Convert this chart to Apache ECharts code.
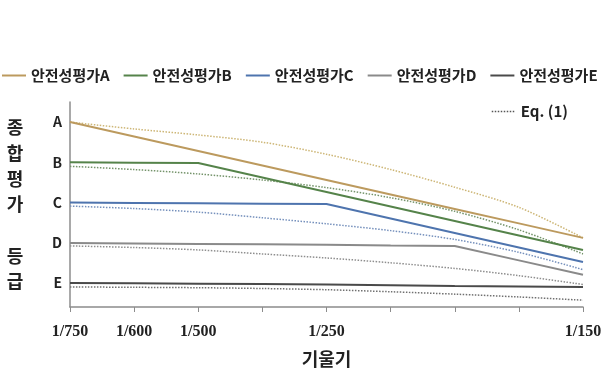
<!DOCTYPE html>
<html>
<head>
<meta charset="utf-8">
<script src="https://cdn.jsdelivr.net/npm/echarts@6/dist/echarts.min.js"></script>
<style>
  html, body { margin: 0; padding: 0; background: #fff; }
  #chart { width: 613px; height: 369px; }
</style>
</head>
<body>
<div id="chart"></div>
<script>
const categories = ['1/750', '1/600', '1/500', '', '1/250', '', '', '', '1/150']
const gradeTicks = [1, 2, 3, 4, 5]
const gradeNames = { 1: 'E', 2: 'D', 3: 'C', 4: 'B', 5: 'A' }
const seriesNames = ['안전성평가A', '안전성평가B', '안전성평가C', '안전성평가D', '안전성평가E']

const gradeA = [5.0, 4.64, 4.28, 3.92, 3.56, 3.2, 2.84, 2.48, 2.12]
const gradeB = [4.0, 3.99, 3.98, 3.62, 3.26, 2.9, 2.54, 2.18, 1.82]
const gradeC = [3.0, 2.99, 2.98, 2.97, 2.96, 2.6, 2.24, 1.88, 1.52]
const gradeD = [1.99, 1.98, 1.97, 1.96, 1.95, 1.93, 1.92, 1.56, 1.2]
const gradeE = [1.0, 0.99, 0.98, 0.97, 0.96, 0.94, 0.92, 0.91, 0.9]

const eqA = [5.0, 4.83, 4.68, 4.5, 4.2, 3.82, 3.38, 2.88, 2.12]
const eqB = [3.9, 3.82, 3.71, 3.56, 3.37, 3.12, 2.78, 2.32, 1.72]
const eqC = [2.91, 2.85, 2.76, 2.62, 2.47, 2.3, 2.08, 1.76, 1.33]
const eqD = [1.92, 1.88, 1.82, 1.72, 1.62, 1.5, 1.36, 1.18, 0.96]
const eqE = [0.9, 0.89, 0.88, 0.86, 0.83, 0.78, 0.72, 0.65, 0.57]

const solidColors = ['#BC9A5E', '#55834A', '#4E74AE', '#8A8A8A', '#4A4A4A']
const dotColors = ['#CDB676', '#74936A', '#7590BC', '#8E8E8E', '#707070']
const font = '"Noto Sans CJK KR", "Noto Sans", sans-serif'

const chart = echarts.init(document.getElementById('chart'))

const eqSeries = [eqA, eqB, eqC, eqD, eqE].map((d, i) => ({
  name: 'Eq. (1)',
  type: 'line',
  data: d,
  symbol: 'none',
  smooth: 0.3,
  z: 2,
  lineStyle: { color: dotColors[i], width: 1.5, type: [1.5, 1.5] },
  itemStyle: { color: dotColors[i] },
}))

const gradeSeries = [gradeA, gradeB, gradeC, gradeD, gradeE].map((d, i) => ({
  name: seriesNames[i],
  type: 'line',
  data: d,
  symbol: 'none',
  z: 3,
  lineStyle: { color: solidColors[i], width: 2 },
  itemStyle: { color: solidColors[i] },
}))

chart.setOption({
  backgroundColor: '#fff',
  animation: false,
  legend: [
    {
      data: seriesNames,
      left: -4,
      top: 63,
      itemWidth: 24,
      itemHeight: 14,
      itemGap: 13,
      itemStyle: { opacity: 0 },
      textStyle: { fontFamily: font, fontSize: 15, fontWeight: 'bold', color: '#222' },
    },
    {
      data: [{ name: 'Eq. (1)', lineStyle: { color: '#555', type: [1.5, 1.5], width: 1.5 } }],
      left: 486,
      top: 99,
      itemWidth: 24,
      itemHeight: 14,
      itemStyle: { opacity: 0 },
      textStyle: { fontFamily: font, fontSize: 15, fontWeight: 'bold', color: '#222' },
    },
  ],
  grid: {
    left: 70,
    right: 30,
    top: 102,
    bottom: 62,
    outerBoundsMode: 'none',
  },
  xAxis: {
    type: 'category',
    data: categories,
    boundaryGap: false,
    name: '기울기',
    nameLocation: 'middle',
    nameGap: 43,
    nameTextStyle: { fontFamily: font, fontSize: 18, fontWeight: 'bold', color: '#222' },
    axisLine: { lineStyle: { color: '#8c8c8c', width: 1.5 } },
    axisTick: { show: true, length: 5, interval: 0, lineStyle: { color: '#8c8c8c' } },
    axisLabel: {
      interval: 0,
      margin: 17,
      fontFamily: '"Liberation Serif", serif',
      fontSize: 16,
      fontWeight: 'bold',
      color: '#222',
    },
    splitLine: { show: false },
  },
  yAxis: {
    type: 'value',
    min: 0.4,
    max: 5.5,
    name: '종\n합\n평\n가\n\n등\n급',
    nameLocation: 'middle',
    nameRotate: 0,
    nameGap: 55,
    nameTextStyle: {
      fontFamily: font,
      fontSize: 18,
      fontWeight: 'bold',
      color: '#222',
      lineHeight: 25.7,
      align: 'center',
      padding: [0, 0, 6, 0],
    },
    axisLine: { show: true, lineStyle: { color: '#8c8c8c', width: 1.5 } },
    axisTick: { show: false },
    axisLabel: {
      customValues: gradeTicks,
      margin: 8,
      fontFamily: font,
      fontSize: 14,
      fontWeight: 'bold',
      color: '#222',
      formatter: v => gradeNames[Math.round(v)] || '',
    },
    splitLine: { show: false },
  },
  series: [...eqSeries, ...gradeSeries],
})
</script>
</body>
</html>
